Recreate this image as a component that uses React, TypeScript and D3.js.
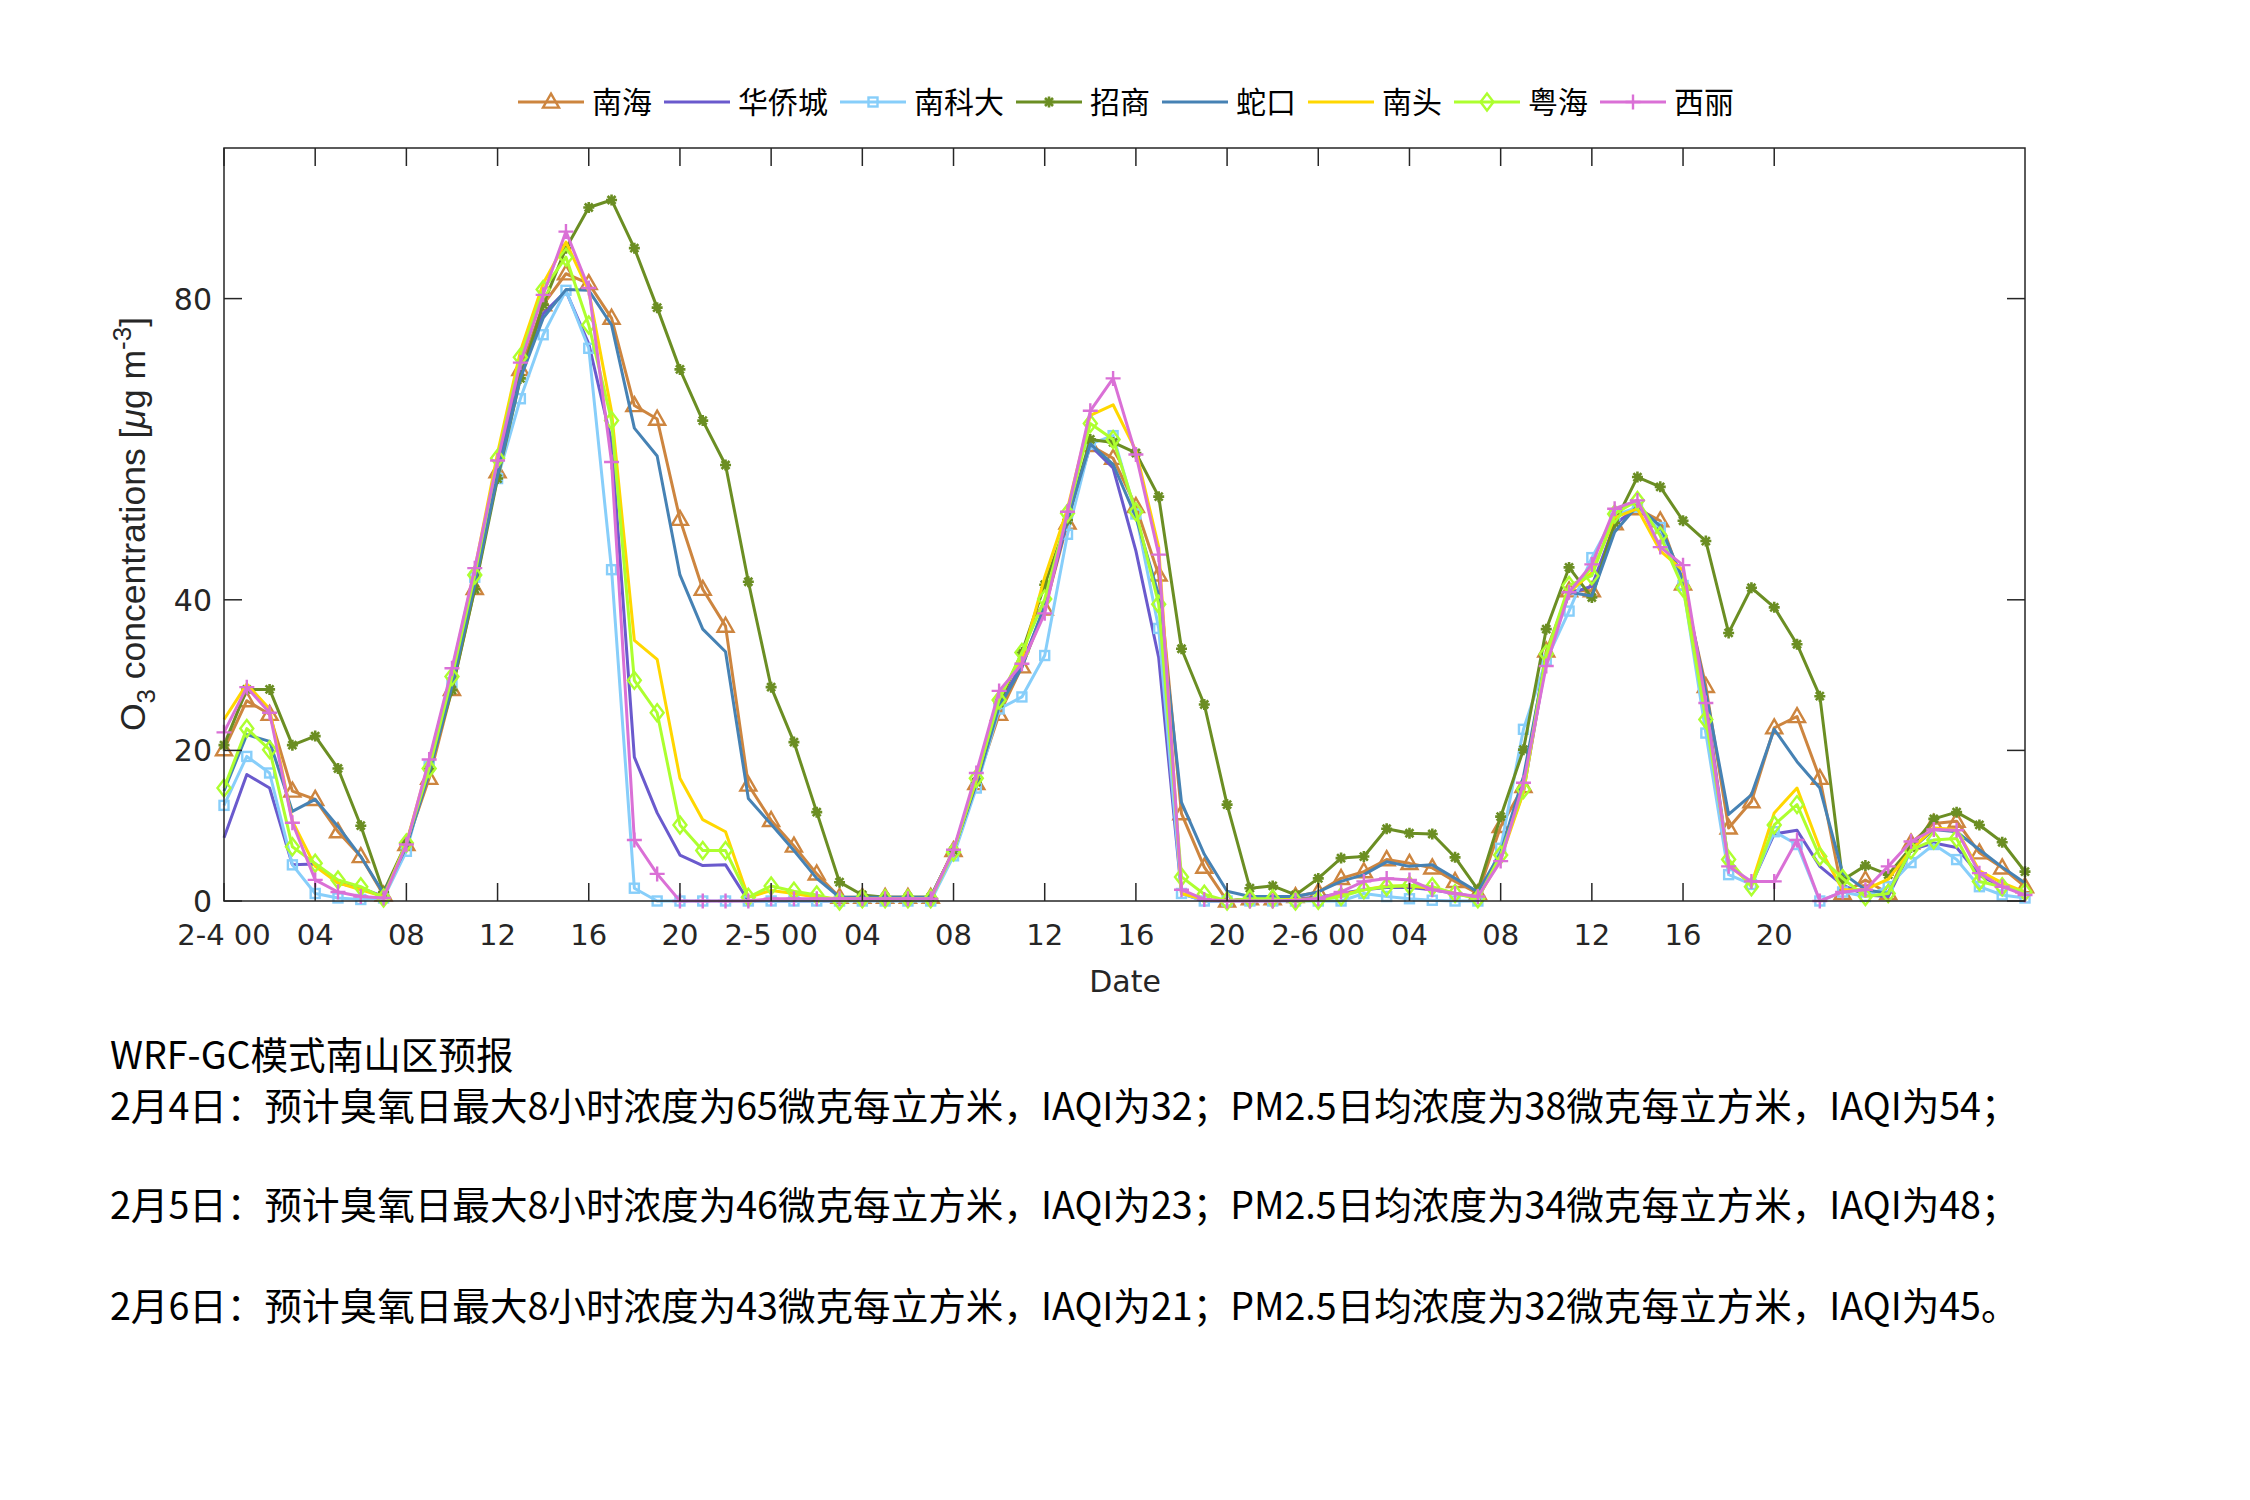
import React from "react";
import * as d3 from "d3";

const hours = d3.range(0, 80);

const nanhai = [20.1, 26.6, 24.8, 14.6, 13.5, 9.2, 5.9, 0.8, 7.5, 16.3,
  28.1, 41.5, 57.0, 70.6, 79.2, 83.3, 82.0, 77.4, 65.8, 64.0,
  50.7, 41.4, 36.5, 15.4, 10.7, 7.3, 3.6, 0.5, 0.5, 0.5,
  0.5, 0.5, 6.7, 15.6, 24.8, 31.1, 38.8, 50.2, 60.5, 58.8,
  52.4, 43.3, 11.6, 4.5, 0.0, 0.3, 0.3, 0.6, 1.2, 3.0,
  3.9, 5.5, 5.0, 4.4, 2.6, 1.0, 9.9, 15.2, 33.2, 41.2,
  41.2, 50.1, 52.1, 50.5, 42.1, 28.5, 9.7, 13.2, 23.0, 24.5,
  16.3, 1.0, 2.8, 1.0, 7.7, 10.3, 10.6, 6.4, 4.4, 1.9];

const huaqiaocheng = [8.4, 16.8, 15.0, 4.8, 4.9, 2.4, 1.7, 0.6, 7.5, 17.5,
  29.0, 42.5, 57.0, 70.0, 78.0, 81.0, 74.0, 61.0, 19.1, 11.7,
  6.1, 4.7, 4.8, 0.0, 0.0, 0.0, 0.0, 0.0, 0.2, 0.2,
  0.2, 0.2, 6.7, 15.3, 26.0, 31.5, 39.0, 50.5, 60.5, 57.5,
  46.5, 32.3, 1.0, 0.0, 0.0, 0.3, 0.3, 0.3, 0.5, 1.0,
  1.5, 1.8, 1.8, 1.5, 1.0, 0.5, 6.0, 14.5, 32.0, 40.8,
  41.8, 50.0, 52.3, 49.0, 42.2, 26.7, 5.0, 2.2, 8.9, 9.4,
  4.6, 2.1, 0.8, 0.6, 6.8, 7.7, 7.1, 3.4, 1.9, 1.2];

const nankeda = [12.7, 19.2, 17.0, 4.8, 1.0, 0.4, 0.2, 0.4, 6.6, 17.9,
  29.0, 43.0, 56.1, 66.7, 75.2, 81.1, 73.4, 44.0, 1.7, 0.0,
  0.0, 0.0, 0.0, 0.0, 0.0, 0.0, 0.0, 0.0, 0.0, 0.0,
  0.0, 0.0, 6.0, 15.0, 25.5, 27.1, 32.6, 48.7, 60.7, 61.8,
  51.4, 36.2, 1.0, 0.0, 0.0, 0.0, 0.0, 0.0, 0.0, 0.0,
  1.0, 0.6, 0.3, 0.1, 0.0, 0.0, 7.0, 22.8, 32.0, 38.5,
  45.6, 51.2, 52.3, 49.6, 41.9, 22.3, 3.5, 2.2, 9.2, 7.5,
  0.0, 1.2, 0.6, 1.9, 5.1, 7.5, 5.5, 1.9, 0.8, 0.4];

const zhaoshang = [20.7, 28.1, 28.1, 20.7, 21.9, 17.6, 10.0, 1.2, 7.7, 17.5,
  28.0, 41.4, 56.1, 69.4, 79.2, 86.7, 92.1, 93.1, 86.7, 78.8,
  70.6, 63.8, 57.9, 42.4, 28.4, 21.1, 11.8, 2.5, 0.8, 0.5,
  0.5, 0.5, 6.7, 15.8, 26.3, 33.0, 42.0, 50.6, 61.3, 60.9,
  59.5, 53.7, 33.5, 26.1, 12.8, 1.7, 2.0, 0.8, 3.0, 5.7,
  5.9, 9.6, 9.0, 8.9, 5.8, 1.5, 11.2, 20.1, 36.1, 44.3,
  40.3, 50.2, 56.3, 55.0, 50.5, 47.8, 35.6, 41.6, 39.0, 34.1,
  27.2, 2.8, 4.7, 3.5, 7.1, 10.9, 11.8, 10.1, 7.8, 3.9];

const shekou = [14.6, 22.1, 21.2, 11.9, 13.5, 9.9, 5.9, 1.0, 7.2, 17.0,
  28.5, 42.0, 56.5, 69.4, 77.4, 81.2, 81.1, 76.5, 62.8, 59.1,
  43.3, 36.1, 33.1, 13.6, 10.2, 6.7, 3.0, 0.5, 0.5, 0.5,
  0.5, 0.5, 6.7, 15.5, 25.8, 31.0, 39.3, 50.8, 60.7, 58.0,
  51.0, 40.6, 13.1, 6.2, 1.3, 0.6, 0.6, 0.6, 1.2, 2.6,
  3.5, 5.2, 4.6, 4.8, 3.0, 1.2, 6.4, 16.5, 32.5, 41.0,
  40.5, 49.0, 52.5, 49.8, 42.7, 27.7, 11.5, 14.1, 22.8, 18.5,
  15.0, 3.7, 1.5, 1.0, 6.8, 9.5, 9.2, 6.8, 4.5, 2.4];

const nantou = [24.1, 28.8, 25.5, 10.6, 4.6, 2.4, 1.5, 0.6, 7.7, 18.5,
  30.5, 44.0, 59.5, 73.0, 82.0, 87.5, 81.0, 65.0, 34.6, 32.1,
  16.3, 10.8, 9.2, 0.5, 1.4, 1.0, 0.5, 0.3, 0.3, 0.3,
  0.3, 0.3, 6.8, 16.0, 27.3, 32.1, 43.0, 52.1, 64.5, 65.9,
  59.8, 47.0, 1.0, 0.2, 0.0, 0.2, 0.2, 0.2, 0.3, 0.8,
  1.5, 2.0, 2.0, 1.7, 1.0, 0.4, 5.6, 14.4, 32.5, 41.0,
  43.6, 50.9, 52.1, 46.5, 43.9, 25.8, 4.8, 2.2, 11.7, 15.0,
  7.0, 1.5, 1.5, 2.9, 6.8, 9.7, 9.5, 4.0, 2.4, 1.2];

const yuehai = [15.0, 22.9, 20.1, 7.2, 5.0, 2.8, 1.9, 0.4, 7.7, 17.6,
  29.8, 43.3, 58.8, 72.2, 81.2, 85.5, 76.5, 63.8, 29.3, 25.0,
  10.1, 6.7, 6.7, 0.5, 2.0, 1.3, 0.8, 0.0, 0.3, 0.3,
  0.3, 0.3, 6.5, 16.3, 26.7, 33.0, 40.1, 51.5, 63.4, 61.3,
  51.7, 39.4, 3.2, 0.9, 0.0, 0.3, 0.3, 0.0, 0.1, 0.6,
  1.5, 1.9, 2.1, 1.9, 1.0, 0.3, 6.1, 14.8, 32.8, 41.9,
  43.2, 51.4, 53.2, 48.5, 41.6, 24.1, 5.5, 1.9, 10.1, 12.8,
  5.9, 3.0, 0.6, 1.0, 6.8, 8.1, 8.3, 2.6, 1.9, 1.2];

const xili = [22.4, 28.4, 25.0, 10.4, 2.8, 1.2, 0.6, 0.4, 7.5, 18.8,
  30.9, 44.2, 58.5, 71.5, 80.5, 88.9, 81.4, 58.3, 8.1, 3.6,
  0.0, 0.0, 0.0, 0.0, 0.3, 0.3, 0.3, 0.3, 0.3, 0.3,
  0.3, 0.3, 6.8, 17.0, 27.9, 31.5, 38.2, 51.7, 65.1, 69.4,
  59.3, 46.0, 1.5, 0.2, 0.0, 0.0, 0.0, 0.1, 0.3, 1.2,
  2.6, 3.0, 2.8, 1.5, 1.0, 0.6, 5.3, 15.7, 31.2, 41.0,
  44.7, 52.1, 53.2, 47.0, 44.6, 26.3, 4.6, 2.6, 2.6, 8.1,
  0.0, 1.2, 1.5, 4.6, 7.9, 9.5, 9.4, 3.7, 1.9, 0.8];

const seriesNames = ["南海", "华侨城", "南科大", "招商", "蛇口", "南头", "粤海", "西丽"];
const seriesValues = [nanhai, huaqiaocheng, nankeda, zhaoshang, shekou, nantou, yuehai, xili];
const seriesColors = ["#cd853f", "#6a5acd", "#87cefa", "#6b8e23", "#4682b4", "#ffd700", "#adff2f", "#da70d6"];
const seriesMarkers = ["triangle", "none", "square", "asterisk", "none", "none", "diamond", "plus"];

const yTicks = [0, 20, 40, 80];
const xTicks = d3.range(0, 69, 4);
const xTickLabel = (h: number) => (h % 24 === 0 ? `2-${4 + h / 24} 00` : String(h % 24).padStart(2, "0"));

const textLines = [
  "WRF-GC模式南山区预报",
  "2月4日：预计臭氧日最大8小时浓度为65微克每立方米，IAQI为32；PM2.5日均浓度为38微克每立方米，IAQI为54；",
  "2月5日：预计臭氧日最大8小时浓度为46微克每立方米，IAQI为23；PM2.5日均浓度为34微克每立方米，IAQI为48；",
  "2月6日：预计臭氧日最大8小时浓度为43微克每立方米，IAQI为21；PM2.5日均浓度为32微克每立方米，IAQI为45。",
];
const textBaselines = [1069, 1120, 1219, 1320];

const W = 2250, H = 1500;
const M = { left: 224, right: 2025, top: 148, bottom: 901 };
const AX = "#262626";
const CJK = "'Noto Sans CJK SC', 'Noto Sans', sans-serif";
const AXF = "'DejaVu Sans', 'Noto Sans CJK SC', sans-serif";

function Marker({ type, x, y, color }: { type: string; x: number; y: number; color: string }) {
  const sw = 2.4;
  if (type === "triangle") {
    const s = 8;
    return <path d={`M${x},${y - s * 1.05}L${x + s},${y + s * 0.7}L${x - s},${y + s * 0.7}Z`} fill="none" stroke={color} strokeWidth={sw} />;
  }
  if (type === "square") {
    const s = 4.5;
    return <rect x={x - s} y={y - s} width={2 * s} height={2 * s} fill="none" stroke={color} strokeWidth={sw} />;
  }
  if (type === "diamond") {
    return <path d={`M${x},${y - 8.5}L${x + 6.5},${y}L${x},${y + 8.5}L${x - 6.5},${y}Z`} fill="none" stroke={color} strokeWidth={sw} />;
  }
  if (type === "plus") {
    const s = 7.5;
    return <path d={`M${x - s},${y}L${x + s},${y}M${x},${y - s}L${x},${y + s}`} stroke={color} strokeWidth={sw} />;
  }
  if (type === "asterisk") {
    const s = 5.5, d = 4;
    return <path d={`M${x - s},${y}L${x + s},${y}M${x},${y - s}L${x},${y + s}M${x - d},${y - d}L${x + d},${y + d}M${x - d},${y + d}L${x + d},${y - d}`} stroke={color} strokeWidth={2.6} />;
  }
  return null;
}

export default function App() {
  const x = d3.scaleLinear().domain([0, 79]).range([M.left, M.right]);
  const y = d3.scaleLinear().domain([0, 100]).range([M.bottom, M.top]);
  const line = d3.line<number>().x((_, i) => x(hours[i])).y((v) => y(v));
  const tickLen = 18;

  const legendY = 102;
  const lineLen = 66, gap1 = 8, gap2 = 12, charW = 30;
  let lx = 518;
  const legendItems = seriesNames.map((name, i) => {
    const item = { name, i, x0: lx };
    lx += lineLen + gap1 + name.length * charW + gap2;
    return item;
  });

  return (
    <svg width={W} height={H} style={{ position: "absolute", left: 0, top: 0, background: "#fff" }}>
      <rect x={0} y={0} width={W} height={H} fill="#fff" />
      {seriesValues.map((vals, i) => (
        <g key={seriesNames[i]}>
          <path d={line(vals) || ""} fill="none" stroke={seriesColors[i]} strokeWidth={3} strokeLinejoin="round" />
          {seriesMarkers[i] !== "none" &&
            vals.map((v, j) => <Marker key={j} type={seriesMarkers[i]} x={x(hours[j])} y={y(v)} color={seriesColors[i]} />)}
        </g>
      ))}
      <rect x={M.left} y={M.top} width={M.right - M.left} height={M.bottom - M.top} fill="none" stroke={AX} strokeWidth={1.5} />
      {xTicks.map((h) => (
        <g key={h}>
          <line x1={x(h)} x2={x(h)} y1={M.bottom} y2={M.bottom - tickLen} stroke={AX} strokeWidth={1.5} />
          <line x1={x(h)} x2={x(h)} y1={M.top} y2={M.top + tickLen} stroke={AX} strokeWidth={1.5} />
          <text x={x(h)} y={945} textAnchor="middle" fontFamily={AXF} fontSize={29} fill={AX}>{xTickLabel(h)}</text>
        </g>
      ))}
      {yTicks.map((t) => (
        <g key={t}>
          <line x1={M.left} x2={M.left + tickLen} y1={y(t)} y2={y(t)} stroke={AX} strokeWidth={1.5} />
          <line x1={M.right} x2={M.right - tickLen} y1={y(t)} y2={y(t)} stroke={AX} strokeWidth={1.5} />
          <text x={212} y={y(t) + 11} textAnchor="end" fontFamily={AXF} fontSize={30} fill={AX}>{t}</text>
        </g>
      ))}
      <text x={1125} y={992} textAnchor="middle" fontFamily={AXF} fontSize={30} fill={AX}>Date</text>
      <text transform={`translate(145,${524}) rotate(-90)`} textAnchor="middle" fontFamily="'Liberation Sans Narrow', 'Liberation Sans', sans-serif" fontSize={35.5} fill={AX}>
        O<tspan fontSize={26} dy={10}>3</tspan><tspan dy={-10}> concentrations [</tspan><tspan fontStyle="italic">μ</tspan>g m<tspan fontSize={26} dy={-14}>-3</tspan><tspan dy={14}>]</tspan>
      </text>
      {legendItems.map((it) => (
        <g key={it.name}>
          <line x1={it.x0} x2={it.x0 + lineLen} y1={legendY} y2={legendY} stroke={seriesColors[it.i]} strokeWidth={3} />
          <Marker type={seriesMarkers[it.i]} x={it.x0 + lineLen / 2} y={legendY} color={seriesColors[it.i]} />
          <text x={it.x0 + lineLen + gap1} y={legendY + 11} fontFamily={CJK} fontSize={30} fill="#000">{it.name}</text>
        </g>
      ))}
      {textLines.map((t, i) => (
        <text key={i} x={110} y={textBaselines[i]} fontFamily={CJK} fontSize={37.6} fill="#000">{t}</text>
      ))}
    </svg>
  );
}
